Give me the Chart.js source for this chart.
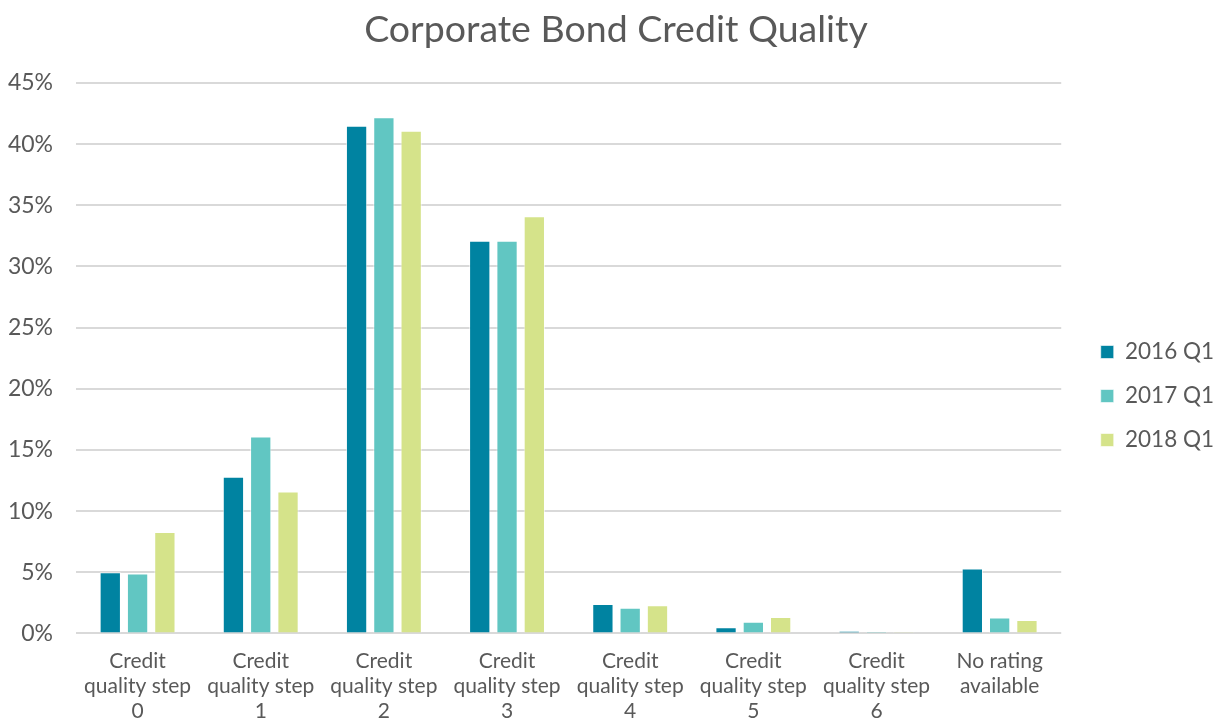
<!DOCTYPE html>
<html>
<head>
<meta charset="utf-8">
<script src="https://cdn.jsdelivr.net/npm/chart.js@4.4.1/dist/chart.umd.min.js"></script>
<style>
  html, body { margin: 0; padding: 0; background: #ffffff; }
  #wrap { width: 1227px; height: 720px; position: relative; }
</style>
</head>
<body>
<div id="wrap"><canvas id="chart"></canvas></div>
<script>
// categories on the x axis (multi-line labels)
const categories = [
  ["Credit", "quality step", "0"],
  ["Credit", "quality step", "1"],
  ["Credit", "quality step", "2"],
  ["Credit", "quality step", "3"],
  ["Credit", "quality step", "4"],
  ["Credit", "quality step", "5"],
  ["Credit", "quality step", "6"],
  ["No rating", "available"]
];

const seriesNames = ["2016 Q1", "2017 Q1", "2018 Q1"];

// share of holdings, in percent
const q1_2016 = [5.0, 12.8, 41.5, 32.1, 2.4, 0.5, 0.2, 5.3];
const q1_2017 = [4.9, 16.1, 42.2, 32.1, 2.1, 0.95, 0.14, 1.3];
const q1_2018 = [8.3, 11.6, 41.1, 34.1, 2.3, 1.35, 0.03, 1.1];

const colors = ["#0083a1", "#61c6c2", "#d5e38a"];
const textColor = "#595959";
const fontFamily = "Lato, 'Open Sans', sans-serif";

const ctx = document.getElementById("chart").getContext("2d");

new Chart(ctx, {
  type: "bar",
  data: {
    labels: categories,
    datasets: [q1_2016, q1_2017, q1_2018].map((values, i) => ({
      label: seriesNames[i],
      data: values,
      backgroundColor: colors[i],
      borderColor: "rgba(255,255,255,0.6)",
      borderWidth: 1,
      categoryPercentage: 0.665,
      barPercentage: 0.78,
    })),
  },
  options: {
    responsive: true,
    maintainAspectRatio: false,
    animation: false,
    layout: {
      padding: { left: 8, right: 3, top: 0, bottom: -11 },
    },
    plugins: {
      title: {
        display: true,
        text: "Corporate Bond Credit Quality",
        color: textColor,
        font: { size: 37.5, family: fontFamily, weight: "normal" },
        padding: { top: 7, bottom: 31 },
      },
      legend: {
        position: "right",
        title: {
          display: true,
          text: " ",
          font: { size: 20, family: fontFamily },
          padding: { top: 0, bottom: 37 },
        },
        labels: {
          color: textColor,
          font: { size: 22.5, family: fontFamily },
          boxWidth: 13,
          boxHeight: 13,
          padding: 21.5,
        },
      },
      tooltip: { enabled: false },
    },
    scales: {
      x: {
        grid: { display: false },
        border: { display: false },
        ticks: {
          color: textColor,
          font: { size: 21, family: fontFamily },
          maxRotation: 0,
          autoSkip: false,
          padding: 7,
        },
      },
      y: {
        min: 0,
        max: 45,
        grid: { color: "#d9d9d9", lineWidth: 2, drawTicks: false },
        border: { display: false },
        afterFit: (axis) => { axis.width = 68; },
        ticks: {
          stepSize: 5,
          color: textColor,
          font: { size: 23, family: fontFamily },
          padding: 23,
          callback: (v) => v + "%",
        },
      },
      // empty spacer between the plot and the legend
      gap: {
        position: "right",
        grid: { display: false },
        border: { display: false },
        ticks: { display: false },
        afterFit: (axis) => { axis.width = 18; },
      },
    },
  },
});
</script>
</body>
</html>
